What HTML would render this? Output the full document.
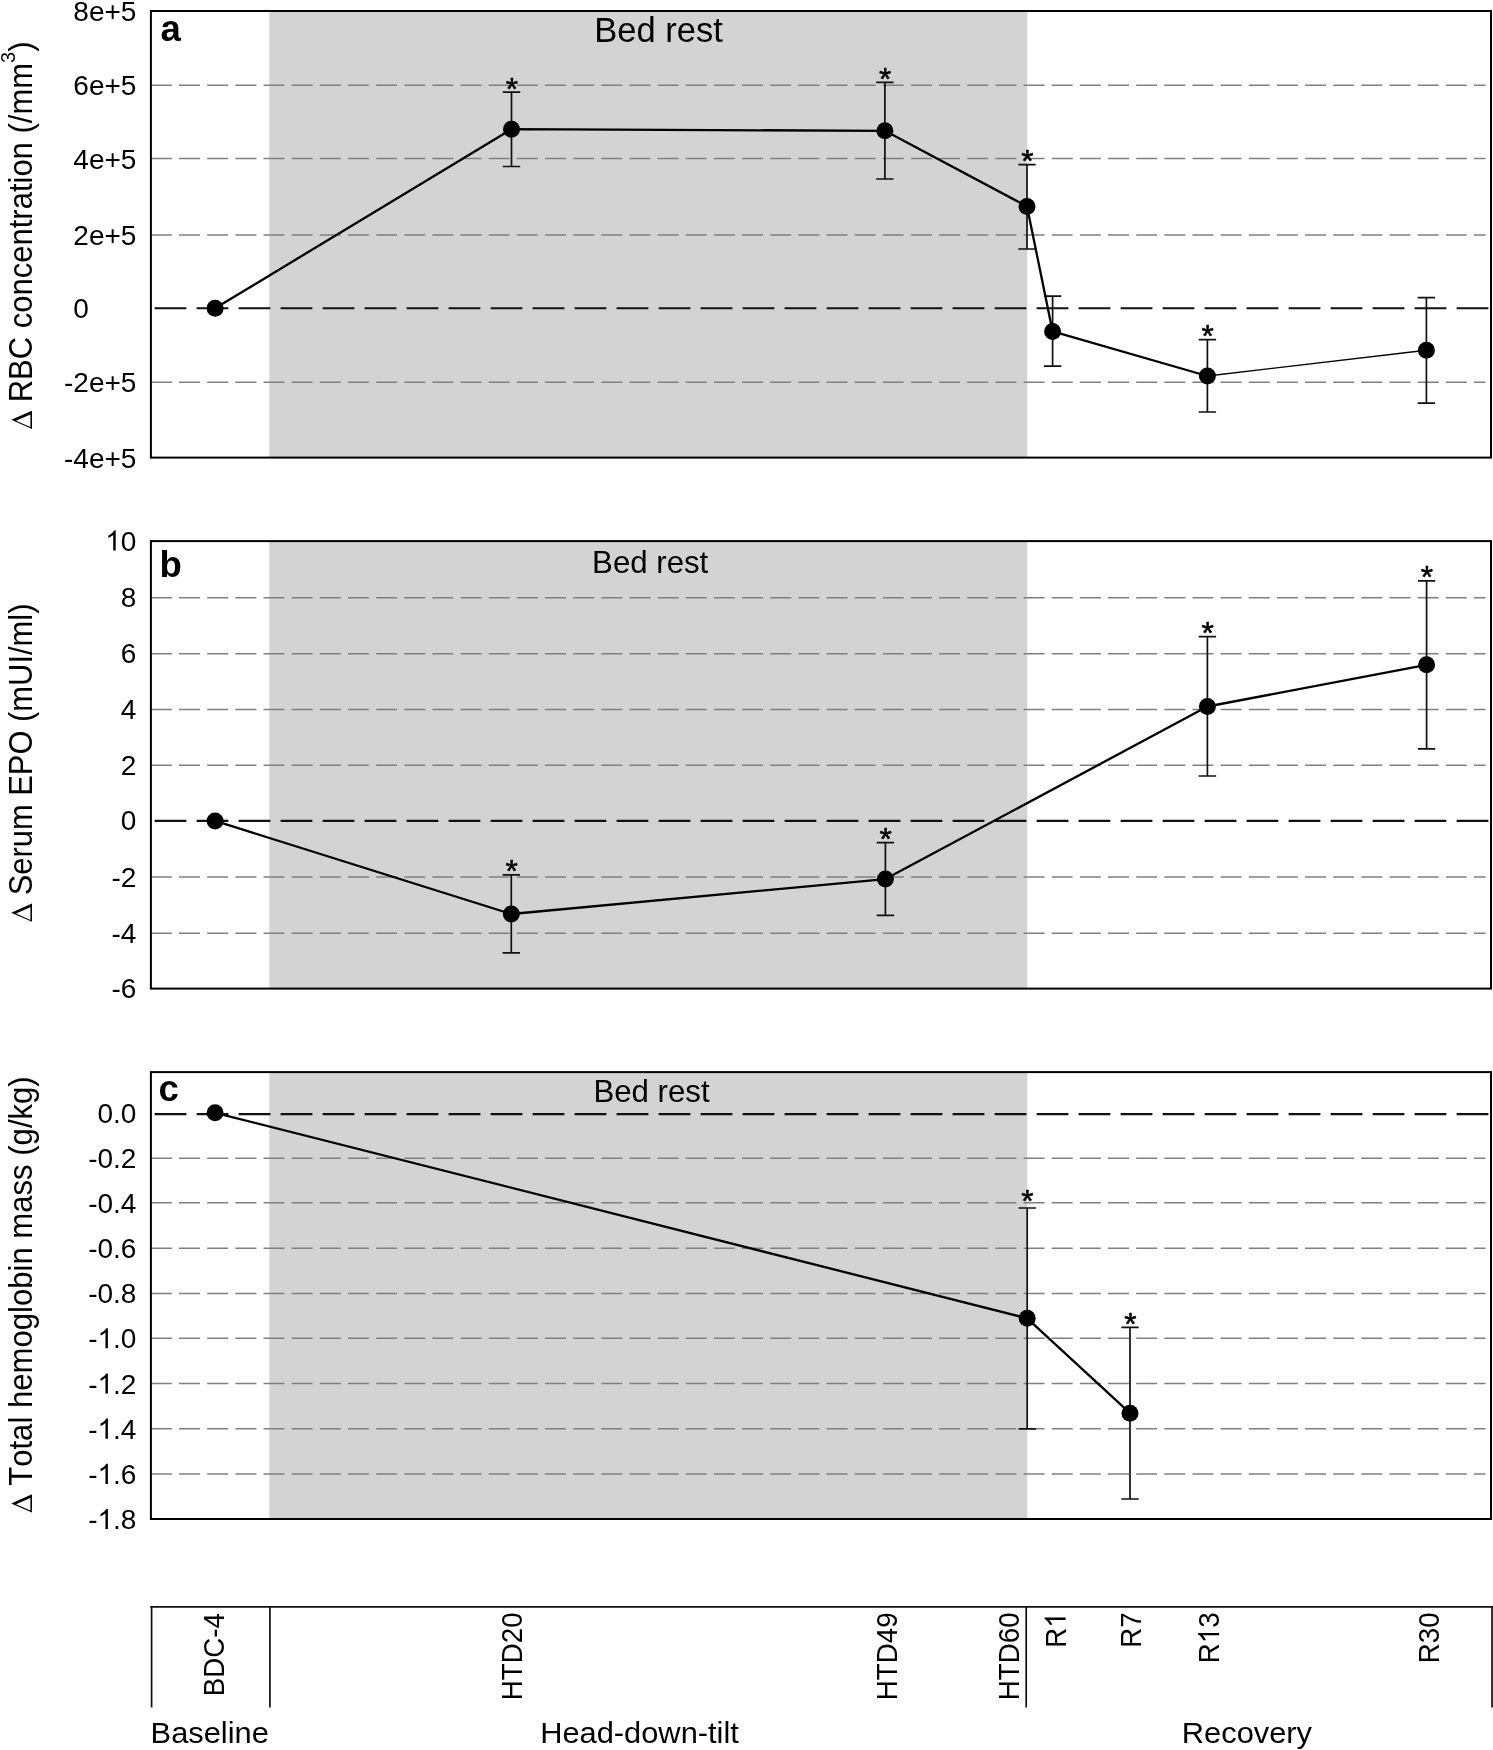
<!DOCTYPE html>
<html><head><meta charset="utf-8"><title>Figure</title>
<style>
html,body{margin:0;padding:0;background:#fff;}
body{width:1493px;height:1750px;overflow:hidden;}
svg{display:block;font-family:"Liberation Sans", sans-serif;will-change:transform;font-kerning:none;}
text{font-kerning:none;}
.g{stroke:#808080;stroke-width:1.5;stroke-dasharray:21 7.15;fill:none;}
.z{stroke:#111;stroke-width:2.1;stroke-dasharray:31.8 10.2;fill:none;}
.e{stroke:#111;stroke-width:1.7;fill:none;}
.d{stroke:#000;stroke-width:2.3;fill:none;stroke-linejoin:round;}
.d2{stroke:#000;stroke-width:1.4;fill:none;}
.b{stroke:#000;stroke-width:2.0;fill:none;}
.ax{stroke:#111;stroke-width:1.7;fill:none;}
.t{font-size:28px;fill:#000;}
.s{font-size:31.6px;fill:#000;stroke:#000;stroke-width:0.55;stroke-linejoin:round;}
.L{font-size:36.5px;font-weight:bold;fill:#000;}
.bed{font-size:31.2px;fill:#000;}
.yt{font-size:31.2px;fill:#000;}
.sup{font-size:20px;}
.dl{font-size:30px;fill:#000;}
.xl{font-size:27.7px;fill:#000;}
.xg{font-size:29.4px;fill:#000;}
</style></head>
<body>
<svg width="1493" height="1750" viewBox="0 0 1493 1750">
<defs><path id="one" d="M763 0H583V1147Q518 1085 412.5 1023T223 930V1104Q374 1175 487 1276T647 1472H763Z"/></defs>
<rect width="1493" height="1750" fill="#fff"/>
<rect x="269.3" y="11.0" width="758.0" height="446.6" fill="#d3d3d3"/>
<line x1="150.9" y1="85.3" x2="1485.5" y2="85.3" class="g"/>
<line x1="150.9" y1="158.6" x2="1485.5" y2="158.6" class="g"/>
<line x1="150.9" y1="235.0" x2="1485.5" y2="235.0" class="g"/>
<line x1="150.9" y1="382.2" x2="1485.5" y2="382.2" class="g"/>
<line x1="154.6" y1="308.3" x2="1488.6" y2="308.3" class="z"/>
<text x="136.4" y="21.0" class="t" text-anchor="end">8e+5</text>
<text x="136.4" y="95.3" class="t" text-anchor="end">6e+5</text>
<text x="136.4" y="168.6" class="t" text-anchor="end">4e+5</text>
<text x="136.4" y="245.0" class="t" text-anchor="end">2e+5</text>
<text x="136.4" y="392.2" class="t" text-anchor="end">-2e+5</text>
<text x="136.4" y="467.6" class="t" text-anchor="end">-4e+5</text>
<text x="73.2" y="318.3" class="t">0</text>
<path d="M511.5 92.2V166.5M502.8 92.2H520.2M502.8 166.5H520.2" class="e"/>
<path d="M884.9 82.4V179.0M876.1999999999999 82.4H893.6M876.1999999999999 179.0H893.6" class="e"/>
<path d="M1027.0 164.6V249.0M1018.3 164.6H1035.7M1018.3 249.0H1035.7" class="e"/>
<path d="M1052.6 296.2V366.1M1043.8999999999999 296.2H1061.3M1043.8999999999999 366.1H1061.3" class="e"/>
<path d="M1207.4 339.6V412.0M1198.7 339.6H1216.1000000000001M1198.7 412.0H1216.1000000000001" class="e"/>
<path d="M1426.4 297.6V403.1M1417.7 297.6H1435.1000000000001M1417.7 403.1H1435.1000000000001" class="e"/>
<polyline class="d" points="215.1,308.3 511.5,129.2 884.9,130.8 1027.0,206.4 1052.6,331.4 1207.4,376.0"/>
<line class="d2" x1="1207.4" y1="376.0" x2="1426.4" y2="350.2"/>
<circle cx="215.1" cy="308.3" r="8.5"/>
<circle cx="511.5" cy="129.2" r="8.5"/>
<text x="511.8" y="99.6" class="s" text-anchor="middle">*</text>
<circle cx="884.9" cy="130.8" r="8.5"/>
<text x="885.2" y="89.8" class="s" text-anchor="middle">*</text>
<circle cx="1027.0" cy="206.4" r="8.5"/>
<text x="1027.3" y="172.0" class="s" text-anchor="middle">*</text>
<circle cx="1052.6" cy="331.4" r="8.5"/>
<circle cx="1207.4" cy="376.0" r="8.5"/>
<text x="1207.7" y="347.0" class="s" text-anchor="middle">*</text>
<circle cx="1426.4" cy="350.2" r="8.5"/>
<rect x="150.9" y="11.0" width="1340.1" height="446.6" class="b"/>
<text x="160.5" y="40.6" class="L">a</text>
<text x="658.5" y="42.3" class="bed" style="font-size:34.5px" text-anchor="middle">Bed rest</text>
<rect x="269.3" y="541.1" width="758.0" height="447.5" fill="#d3d3d3"/>
<line x1="150.9" y1="597.8" x2="1485.5" y2="597.8" class="g"/>
<line x1="150.9" y1="653.7" x2="1485.5" y2="653.7" class="g"/>
<line x1="150.9" y1="709.5" x2="1485.5" y2="709.5" class="g"/>
<line x1="150.9" y1="765.3" x2="1485.5" y2="765.3" class="g"/>
<line x1="150.9" y1="877.0" x2="1485.5" y2="877.0" class="g"/>
<line x1="150.9" y1="933.2" x2="1485.5" y2="933.2" class="g"/>
<line x1="154.6" y1="820.9" x2="1488.6" y2="820.9" class="z"/>
<use href="#one" transform="translate(105.26 550.6) scale(0.01367 -0.01367)"/><text x="120.83" y="550.6" class="t">0</text>
<text x="136.4" y="607.3" class="t" text-anchor="end">8</text>
<text x="136.4" y="663.2" class="t" text-anchor="end">6</text>
<text x="136.4" y="719.0" class="t" text-anchor="end">4</text>
<text x="136.4" y="774.8" class="t" text-anchor="end">2</text>
<text x="136.4" y="830.4" class="t" text-anchor="end">0</text>
<text x="136.4" y="886.5" class="t" text-anchor="end">-2</text>
<text x="136.4" y="942.7" class="t" text-anchor="end">-4</text>
<text x="136.4" y="998.1" class="t" text-anchor="end">-6</text>
<path d="M511.3 874.8V952.8M502.6 874.8H520.0M502.6 952.8H520.0" class="e"/>
<path d="M885.4 842.6V915.3M876.6999999999999 842.6H894.1M876.6999999999999 915.3H894.1" class="e"/>
<path d="M1207.4 636.6V776.0M1198.7 636.6H1216.1000000000001M1198.7 776.0H1216.1000000000001" class="e"/>
<path d="M1426.6 580.8V748.9M1417.8999999999999 580.8H1435.3M1417.8999999999999 748.9H1435.3" class="e"/>
<polyline class="d" points="215.1,820.9 511.3,914.0 885.4,879.1 1207.4,706.5 1426.6,664.8"/>
<circle cx="215.1" cy="820.9" r="8.5"/>
<circle cx="511.3" cy="914.0" r="8.5"/>
<text x="511.6" y="882.2" class="s" text-anchor="middle">*</text>
<circle cx="885.4" cy="879.1" r="8.5"/>
<text x="885.7" y="850.0" class="s" text-anchor="middle">*</text>
<circle cx="1207.4" cy="706.5" r="8.5"/>
<text x="1207.7" y="644.0" class="s" text-anchor="middle">*</text>
<circle cx="1426.6" cy="664.8" r="8.5"/>
<text x="1426.9" y="588.2" class="s" text-anchor="middle">*</text>
<rect x="150.9" y="541.1" width="1340.1" height="447.5" class="b"/>
<text x="159.5" y="577.3" class="L">b</text>
<text x="650.2" y="573.4" class="bed" text-anchor="middle">Bed rest</text>
<rect x="269.3" y="1072.1" width="758.0" height="446.9" fill="#d3d3d3"/>
<line x1="150.9" y1="1158.3" x2="1485.5" y2="1158.3" class="g"/>
<line x1="150.9" y1="1202.7" x2="1485.5" y2="1202.7" class="g"/>
<line x1="150.9" y1="1248.3" x2="1485.5" y2="1248.3" class="g"/>
<line x1="150.9" y1="1293.4" x2="1485.5" y2="1293.4" class="g"/>
<line x1="150.9" y1="1338.2" x2="1485.5" y2="1338.2" class="g"/>
<line x1="150.9" y1="1383.6" x2="1485.5" y2="1383.6" class="g"/>
<line x1="150.9" y1="1428.7" x2="1485.5" y2="1428.7" class="g"/>
<line x1="150.9" y1="1474.0" x2="1485.5" y2="1474.0" class="g"/>
<line x1="154.6" y1="1114.1" x2="1488.6" y2="1114.1" class="z"/>
<text x="136.4" y="1122.5" class="t" text-anchor="end">0.0</text>
<text x="136.4" y="1167.7" class="t" text-anchor="end">-0.2</text>
<text x="136.4" y="1212.8" class="t" text-anchor="end">-0.4</text>
<text x="136.4" y="1258.0" class="t" text-anchor="end">-0.6</text>
<text x="136.4" y="1303.2" class="t" text-anchor="end">-0.8</text>
<text x="88.16" y="1348.3" class="t">-</text><use href="#one" transform="translate(97.48 1348.3) scale(0.01367 -0.01367)"/><text x="113.05" y="1348.3" class="t">.0</text>
<text x="88.16" y="1393.5" class="t">-</text><use href="#one" transform="translate(97.48 1393.5) scale(0.01367 -0.01367)"/><text x="113.05" y="1393.5" class="t">.2</text>
<text x="88.16" y="1438.7" class="t">-</text><use href="#one" transform="translate(97.48 1438.7) scale(0.01367 -0.01367)"/><text x="113.05" y="1438.7" class="t">.4</text>
<text x="88.16" y="1483.9" class="t">-</text><use href="#one" transform="translate(97.48 1483.9) scale(0.01367 -0.01367)"/><text x="113.05" y="1483.9" class="t">.6</text>
<text x="88.16" y="1529.0" class="t">-</text><use href="#one" transform="translate(97.48 1529.0) scale(0.01367 -0.01367)"/><text x="113.05" y="1529.0" class="t">.8</text>
<path d="M1027.2 1208.0V1428.8M1018.5 1208.0H1035.9M1018.5 1428.8H1035.9" class="e"/>
<path d="M1130.0 1327.4V1499.0M1121.3 1327.4H1138.7M1121.3 1499.0H1138.7" class="e"/>
<polyline class="d" points="215.1,1112.8 1027.2,1318.3 1130.0,1413.2"/>
<circle cx="215.1" cy="1112.8" r="8.5"/>
<circle cx="1027.2" cy="1318.3" r="8.5"/>
<text x="1027.5" y="1212.3" class="s" text-anchor="middle">*</text>
<circle cx="1130.0" cy="1413.2" r="8.5"/>
<text x="1130.3" y="1334.8" class="s" text-anchor="middle">*</text>
<rect x="150.9" y="1072.1" width="1340.1" height="446.9" class="b"/>
<text x="158.5" y="1100.6" class="L">c</text>
<text x="651.5" y="1102.2" class="bed" text-anchor="middle">Bed rest</text>
<path transform="translate(32.0 428.9) rotate(-90)" fill-rule="evenodd" d="M0 0L9.10 -20.80L18.20 0ZM1.90 -1.60L14.50 -1.60L8.20 -16.00Z"/>
<text transform="translate(32.0 402.3) rotate(-90) scale(1 1.048)" class="yt" style="font-size:31.0px">RBC concentration (/mm<tspan class="sup" dy="-16.3">3</tspan><tspan dy="16.3">)</tspan></text>
<path transform="translate(32.0 921.8) rotate(-90)" fill-rule="evenodd" d="M0 0L9.10 -20.80L18.20 0ZM1.90 -1.60L14.50 -1.60L8.20 -16.00Z"/>
<text transform="translate(32.0 895.3) rotate(-90) scale(1 1.048)" class="yt" style="font-size:30.9px">Serum EPO (mUI/ml)</text>
<path transform="translate(32.0 1512.5) rotate(-90)" fill-rule="evenodd" d="M0 0L9.10 -20.80L18.20 0ZM1.90 -1.60L14.50 -1.60L8.20 -16.00Z"/>
<text transform="translate(32.0 1485.8) rotate(-90) scale(1 1.048)" class="yt" style="font-size:31.1px">Total hemoglobin mass (g/kg)</text>
<path class="ax" d="M150.2 1606.9H1493M151.6 1606.9V1707.6M269.9 1606.9V1707.6M1026.2 1606.9V1707.6M1492 1606.9V1707.6"/>
<text transform="translate(223.7 1613.2) rotate(-90) scale(1 1.055)" class="xl" text-anchor="end">BDC-4</text>
<text transform="translate(521.7 1612.4) rotate(-90) scale(1 1.055)" class="xl" text-anchor="end">HTD20</text>
<text transform="translate(896.8 1612.4) rotate(-90) scale(1 1.055)" class="xl" text-anchor="end">HTD49</text>
<text transform="translate(1019.2 1612.4) rotate(-90) scale(1 1.055)" class="xl" text-anchor="end">HTD60</text>
<g transform="translate(1065.6 1612.4) rotate(-90) scale(1 1.055)"><text x="-35.40" y="0.0" class="xl">R</text><use href="#one" transform="translate(-15.40 0.0) scale(0.01353 -0.01353)"/></g>
<text transform="translate(1141.0 1612.4) rotate(-90) scale(1 1.055)" class="xl" text-anchor="end">R7</text>
<g transform="translate(1219.1 1612.4) rotate(-90) scale(1 1.055)"><text x="-50.80" y="0.0" class="xl">R</text><use href="#one" transform="translate(-30.80 0.0) scale(0.01353 -0.01353)"/><text x="-15.40" y="0.0" class="xl">3</text></g>
<text transform="translate(1438.6 1612.4) rotate(-90) scale(1 1.055)" class="xl" text-anchor="end">R30</text>
<text transform="translate(150.6 1742.8) scale(1.049 1)" class="xg" text-anchor="start">Baseline</text>
<text transform="translate(639.5 1742.8) scale(1.049 1)" class="xg" text-anchor="middle">Head-down-tilt</text>
<text transform="translate(1246.9 1742.8) scale(1.049 1)" class="xg" text-anchor="middle">Recovery</text>
</svg>
</body></html>
